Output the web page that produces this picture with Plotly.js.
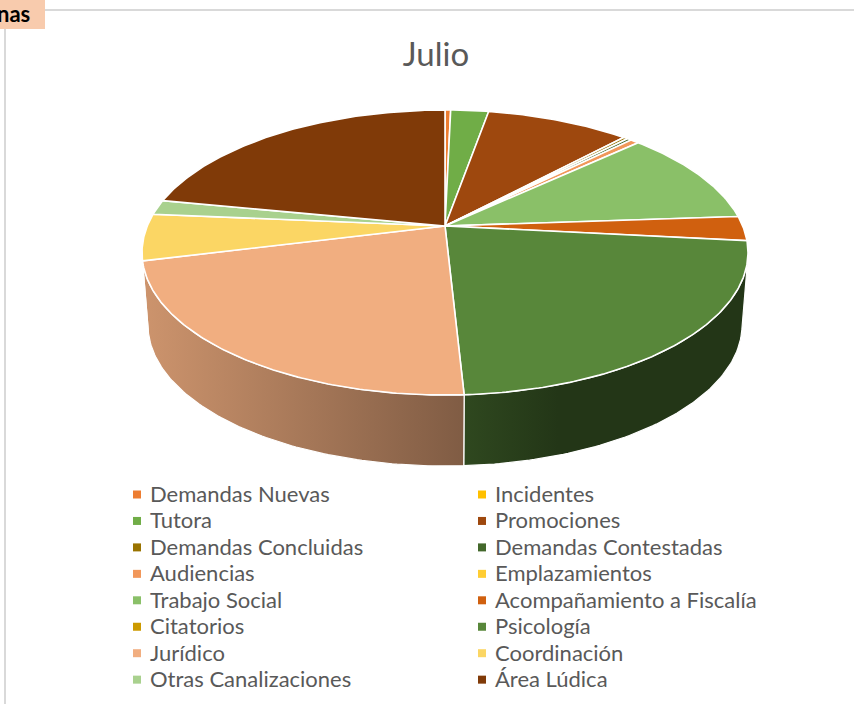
<!DOCTYPE html>
<html><head><meta charset="utf-8">
<script src="https://cdn.plot.ly/plotly-3.0.1.min.js"></script>
<style>html,body{margin:0;padding:0;background:#fff;overflow:hidden}</style>
</head><body><div id="chart" style="width:854px;height:704px"></div>
<script>
const categories = ["Demandas Nuevas","Incidentes","Tutora","Promociones","Demandas Concluidas","Demandas Contestadas","Audiencias","Emplazamientos","Trabajo Social","Acompañamiento a Fiscalía","Citatorios","Psicología","Jurídico","Coordinación","Otras Canalizaciones","Área Lúdica"];
const values = [1.3,0,8.7,33,1,1,2,0,39,10,0,81,79,19,6,79];
const colors = ["#ED7D31","#FFC000","#70AD47","#9E480E","#997300","#43682B","#F1975A","#FFCD33","#8AC068","#D0600F","#CC9A00","#58873A","#F1AE80","#FBD664","#A9D18E","#803A08"];

// projection of the tilted pie (pixel-space axes)
const CX=445, APEX=226, A=297.7, B=137.6, K=0.186;
const TOP={cx:445,cy:252.5,rx:303,ry:142.5}, BOT={cx:445,cy:325,rx:297,ry:141};
const PHI0=92, PHI1=268;
const rad=d=>d*Math.PI/180, deg=r=>r*180/Math.PI;
function rim(t){const u=Math.sin(rad(t)),v=Math.cos(rad(t)),w=1+K*v;return [CX+A*u/w,APEX-B*v/w];}
function phiOf(t){const p=rim(t);let f=deg(Math.atan2((p[0]-TOP.cx)/TOP.rx,(TOP.cy-p[1])/TOP.ry));return f<0?f+360:f;}
function ell(e,f){return [e.cx+e.rx*Math.sin(rad(f)),e.cy-e.ry*Math.cos(rad(f))];}
function shade(hex,s){const n=parseInt(hex.slice(1),16);return `rgb(${Math.round((n>>16)*s)},${Math.round(((n>>8)&255)*s)},${Math.round((n&255)*s)})`;}

const total=values.reduce((a,b)=>a+b,0);
const walls=[],tops=[];
let acc=0;
values.forEach((val,i)=>{
  const t0=acc/total*360; acc+=val; const t1=acc/total*360;
  if(val===0) return;
  const N=Math.max(2,Math.ceil((t1-t0)*1.5));
  const xs=[CX],ys=[APEX];
  for(let k=0;k<=N;k++){const p=rim(t0+(t1-t0)*k/N);xs.push(p[0]);ys.push(p[1]);}
  xs.push(CX);ys.push(APEX);
  tops.push({type:'scatter',mode:'lines',x:xs,y:ys,fill:'toself',fillcolor:colors[i],line:{color:'#fff',width:1.6},name:categories[i],showlegend:false,hoverinfo:'skip'});
  const f0=Math.max(t0===0?0:phiOf(t0),PHI0), f1=Math.min(t1>=360?360:phiOf(t1),PHI1);
  if(f1>f0){
    const wx=[],wy=[],M=Math.ceil(f1-f0);
    for(let k=0;k<=M;k++){const p=ell(TOP,f0+(f1-f0)*k/M);wx.push(p[0]);wy.push(p[1]);}
    for(let k=M;k>=0;k--){const p=ell(BOT,f0+(f1-f0)*k/M);wx.push(p[0]);wy.push(p[1]);}
    wx.push(wx[0]);wy.push(wy[0]);
    walls.push({type:'scatter',mode:'lines',x:wx,y:wy,fill:'toself',line:{color:'#fff',width:1.2},showlegend:false,hoverinfo:'skip',
      fillgradient:{type:'horizontal',start:143,stop:745,colorscale:[[0,shade(colors[i],.85)],[.533,shade(colors[i],.53)],[.69,shade(colors[i],.40)],[1,shade(colors[i],.40)]]}});
  }
});

// legend: two columns, row-major
const legX=[137,482], txtX=[150,494.5], legY0=494.5, legDY=26.45;
const swatch={type:'scatter',mode:'markers',hoverinfo:'skip',showlegend:false,
  x:categories.map((c,i)=>legX[i%2]),y:categories.map((c,i)=>legY0+legDY*Math.floor(i/2)),
  marker:{symbol:'square',size:8,color:colors,line:{width:0}}};
const legendText=categories.map((c,i)=>({x:txtX[i%2],y:legY0+legDY*Math.floor(i/2)-1,text:c,xref:'x',yref:'y',xanchor:'left',yanchor:'middle',showarrow:false,xshift:-2,font:{family:'Lato',size:22,color:'#595959'}}));

const layout={width:854,height:704,margin:{l:0,r:0,t:0,b:0},paper_bgcolor:'#fff',plot_bgcolor:'#fff',showlegend:false,hovermode:false,
  title:{text:'Julio',x:436/854,xanchor:'center',y:1-54/704,yanchor:'middle',font:{family:'Lato',size:33,color:'#595959'}},
  xaxis:{range:[0,854],visible:false,fixedrange:true},
  yaxis:{range:[704,0],visible:false,fixedrange:true},
  shapes:[
    {type:'line',x0:45,x1:854,y0:10,y1:10,line:{color:'#D9D9D9',width:2}},
    {type:'line',x0:5,x1:5,y0:29,y1:704,line:{color:'#D9D9D9',width:2}},
    {type:'rect',x0:0,x1:45,y0:0,y1:29,fillcolor:'#F8CBAD',line:{width:0}}
  ],
  annotations:[{x:31.5,y:13.5,text:'<b>nas</b>',xref:'x',yref:'y',xanchor:'right',yanchor:'middle',showarrow:false,font:{family:'Lato',size:22,color:'#000'}}].concat(legendText)
};
Plotly.newPlot('chart',walls.concat(tops,[swatch]),layout,{displayModeBar:false,staticPlot:true});
</script></body></html>
